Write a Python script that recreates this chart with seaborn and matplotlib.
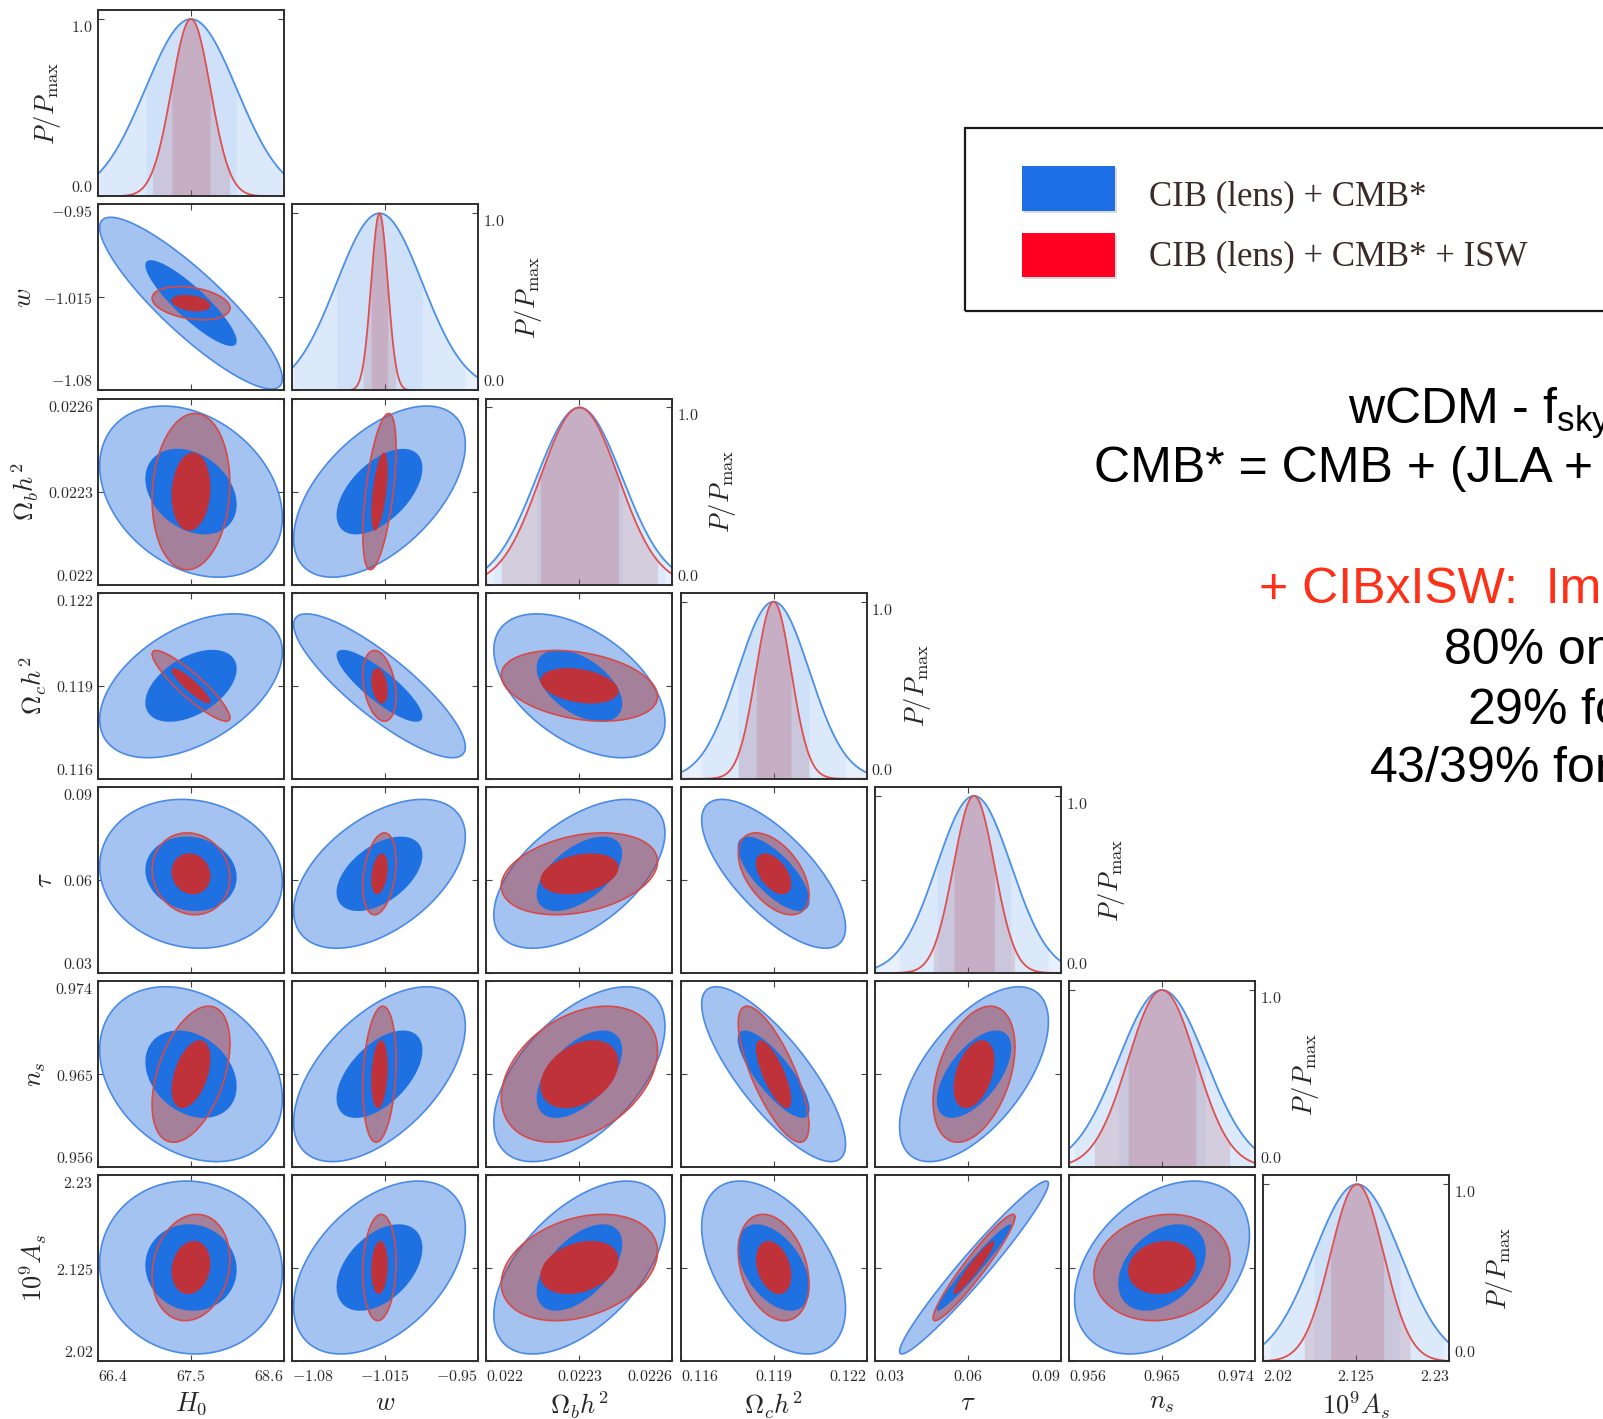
import numpy as np
import matplotlib
matplotlib.use("Agg")
import matplotlib.pyplot as plt
from matplotlib.patches import Rectangle
import seaborn as sns

# ---------------------------------------------------------------- data
names = ["H0", "w", "ombh2", "omch2", "tau", "ns", "As"]
axis_labels = [r"$H_0$", r"$w$", r"$\Omega_b h^2$", r"$\Omega_c h^2$",
               r"$\tau$", r"$n_s$", r"$10^9 A_s$"]
tick_labels = [
    ["66.4", "67.5", "68.6"],
    ["-1.08", "-1.015", "-0.95"],
    ["0.022", "0.0223", "0.0226"],
    ["0.116", "0.119", "0.122"],
    ["0.03", "0.06", "0.09"],
    ["0.956", "0.965", "0.974"],
    ["2.02", "2.125", "2.23"],
]
fiducial = [67.5, -1.019, 0.0223, 0.119, 0.062, 0.965, 2.126]

# 1-sigma marginal errors: CIB (lens) + CMB*  and  ... + ISW
sigma_base = [0.54, 0.030, 0.000138, 0.00116, 0.0120, 0.00423, 0.0488]
sigma_isw = [0.23, 0.0058, 0.000126, 0.00057, 0.0066, 0.00329, 0.0300]

# correlation coefficients, lower triangle (row i, columns 0..i-1)
corr_base = [
    [],
    [-0.88],
    [-0.30, 0.55],
    [0.47, -0.85, -0.50],
    [-0.10, 0.50, 0.55, -0.72],
    [-0.28, 0.55, 0.55, -0.80, 0.60],
    [-0.05, 0.45, 0.55, -0.47, 0.97, 0.37],
]
corr_isw = [
    [],
    [-0.30],
    [0.10, 0.55],
    [-0.90, -0.30, -0.30],
    [-0.10, 0.30, 0.30, -0.50],
    [0.45, 0.20, 0.35, -0.75, 0.40],
    [0.15, 0.10, 0.30, -0.30, 0.95, 0.12],
]

legend_labels = ["CIB (lens) + CMB*", "CIB (lens) + CMB* + ISW"]
side_lines = [
    ("wCDM - f$_{\\mathrm{sky}}$ = 0.4", "black"),
    ("CMB* = CMB + (JLA + BAO)", "black"),
    ("+ CIBxISW:  Improvement", "#ff3018"),
    ("80% on w", "black"),
    ("29% for H$_0$", "black"),
    ("43/39% for n$_s$/A$_s$", "black"),
]

# ---------------------------------------------------------------- style
sns.set_theme(style="ticks")
plt.rcParams.update({
    "font.family": ["DejaVu Serif"],
    "mathtext.fontset": "cm",
    "mathtext.rm": "Liberation Sans",
    "mathtext.it": "Liberation Sans:italic",
    "mathtext.bf": "Liberation Sans:bold",
    "axes.linewidth": 1.4,
    "axes.edgecolor": "#2e2e2e",
    "xtick.direction": "in",
    "ytick.direction": "in",
    "xtick.major.size": 4,
    "ytick.major.size": 4,
    "xtick.major.width": 0.8,
    "ytick.major.width": 0.8,
    "xtick.color": "#444444",
    "ytick.color": "#444444",
    "xtick.labelcolor": "#2a2a2a",
    "ytick.labelcolor": "#2a2a2a",
    "xtick.labelsize": 11.5,
    "ytick.labelsize": 11.5,
    "xtick.major.pad": 4.5,
    "ytick.major.pad": 3.5,
})

BLUE_LIGHT = "#a4c3f1"
BLUE_EDGE = "#4a8ae6"
BLUE_DARK = "#1f71e2"
RED_OUTER = (0.66, 0.22, 0.24, 0.48)
RED_EDGE = "#d64a48"
RED_DARK = "#c0323a"
BLUE_LINE = "#4a8fe8"
RED_LINE = "#de5050"

W, H = 1603, 1419
fig = plt.figure(figsize=(W / 100, H / 100), dpi=100)


def panel_rect(col, row):
    left = 98 + col * 194.2
    top = 10.2 + row * 194.2
    return [left / W, 1 - (top + 186) / H, 186 / W, 186 / H]


def fx(px):
    return px / W


def fy(py):
    return 1 - py / H


def ellipse(mx, my, sx, sy, r, k):
    t = np.linspace(0, 2 * np.pi, 240)
    x = mx + k * sx * np.cos(t)
    y = my + k * sy * (r * np.cos(t) + np.sqrt(1 - r ** 2) * np.sin(t))
    return x, y


def limits(i):
    return float(tick_labels[i][0]), float(tick_labels[i][2])


def math_labels(i):
    return ["$" + s + "$" for s in tick_labels[i]]


def align_edges(axis, which):
    """Keep the outermost tick labels inside the panel extent."""
    ticks = axis.get_major_ticks()
    for t in (ticks[0], ticks[-1]):
        first = t is ticks[0]
        for lab in (t.label1, t.label2):
            if which == "x":
                lab.set_ha("left" if first else "right")
            else:
                lab.set_va("bottom" if first else "top")


def set_xticks(ax, i, show):
    vals = [float(s) for s in tick_labels[i]]
    if show:
        ax.set_xticks(vals, labels=math_labels(i))
        align_edges(ax.xaxis, "x")
    else:
        ax.set_xticks(vals, labels=[])


def set_yticks(ax, i, show):
    vals = [float(s) for s in tick_labels[i]]
    if show:
        ax.set_yticks(vals, labels=math_labels(i))
        align_edges(ax.yaxis, "y")
    else:
        ax.set_yticks(vals, labels=[])


n = len(names)
for row in range(n):
    for col in range(row + 1):
        ax = fig.add_axes(panel_rect(col, row))
        ax.tick_params(top=True, right=True, bottom=True, left=True)
        xlo, xhi = limits(col)
        if row == col:
            # 1D marginalised posteriors
            i = row
            x = np.linspace(xlo, xhi, 500)
            mu = fiducial[i]
            pb = np.exp(-0.5 * ((x - mu) / sigma_base[i]) ** 2)
            pr = np.exp(-0.5 * ((x - mu) / sigma_isw[i]) ** 2)
            ax.fill_between(x, 0, pb, color=BLUE_LINE, alpha=0.13, lw=0)
            ax.fill_between(x, 0, pb, where=np.abs(x - mu) <= 2 * sigma_base[i],
                            color=BLUE_LINE, alpha=0.07, lw=0)
            ax.fill_between(x, 0, pb, where=np.abs(x - mu) <= sigma_base[i],
                            color=BLUE_LINE, alpha=0.08, lw=0)
            ax.fill_between(x, 0, pr, where=np.abs(x - mu) <= 2 * sigma_isw[i],
                            color="#b03040", alpha=0.15, lw=0)
            ax.fill_between(x, 0, pr, where=np.abs(x - mu) <= sigma_isw[i],
                            color="#b03040", alpha=0.15, lw=0)
            sns.lineplot(x=x, y=pb, ax=ax, color=BLUE_LINE, lw=1.3, sort=False,
                         legend=False)
            sns.lineplot(x=x, y=pr, ax=ax, color=RED_LINE, lw=1.3, sort=False,
                         legend=False)
            ax.set_xlim(xlo, xhi)
            ax.set_ylim(0, 1.05)
            set_xticks(ax, i, show=(i == n - 1))
            ax.set_yticks([0.0, 1.0], labels=[r"$0.0$", r"$1.0$"])
            if i == 0:
                ax.set_ylabel(r"$P/P_{\rm max}$", fontsize=19, labelpad=6)
            else:
                ax.tick_params(labelleft=False, labelright=True)
                ax.yaxis.set_label_position("right")
                ax.set_ylabel(r"$P/P_{\rm max}$", fontsize=19, labelpad=6,
                              rotation=90, va="top")
            align_edges(ax.yaxis, "y")
            if i == n - 1:
                ax.set_xlabel(axis_labels[i], fontsize=19, labelpad=4)
        else:
            # 2D joint constraints: 1 and 2 sigma ellipses
            ylo, yhi = limits(row)
            mx, my = fiducial[col], fiducial[row]
            rb = corr_base[row][col]
            rr = corr_isw[row][col]
            bx, by = sigma_base[col], sigma_base[row]
            qx, qy = sigma_isw[col], sigma_isw[row]

            ex, ey = ellipse(mx, my, bx, by, rb, 2)
            ax.fill(ex, ey, facecolor=BLUE_LIGHT, edgecolor=BLUE_EDGE, lw=1.2,
                    zorder=1)
            rx2, ry2 = ellipse(mx, my, qx, qy, rr, 2)
            ax.fill(rx2, ry2, facecolor=RED_OUTER, edgecolor="none", zorder=2)
            ex, ey = ellipse(mx, my, bx, by, rb, 1)
            ax.fill(ex, ey, facecolor=BLUE_DARK, edgecolor="none", zorder=3)
            ax.plot(rx2, ry2, color=RED_EDGE, lw=1.2, zorder=4)
            rx1, ry1 = ellipse(mx, my, qx, qy, rr, 1)
            ax.fill(rx1, ry1, facecolor=RED_DARK, edgecolor="none", zorder=5)

            ax.set_xlim(xlo, xhi)
            ax.set_ylim(ylo, yhi)
            set_xticks(ax, col, show=(row == n - 1))
            set_yticks(ax, row, show=(col == 0))
            if row == n - 1:
                ax.set_xlabel(axis_labels[col], fontsize=19, labelpad=4)
            if col == 0:
                ax.set_ylabel(axis_labels[row], fontsize=19, labelpad=5)

# ---------------------------------------------------------------- legend box
fig.add_artist(Rectangle((fx(965), fy(311)), fx(1620) - fx(965), fy(128) - fy(311),
                         transform=fig.transFigure, fill=False,
                         edgecolor="#1a1a1a", lw=1.6))
for (top, bottom), colr, lab, base in zip(
        [(166, 211), (233, 277)], ["#1e6fe6", "#ff0022"], legend_labels, [205, 265]):
    fig.add_artist(Rectangle((fx(1024), fy(bottom + 2)), fx(1117) - fx(1024),
                             fy(top + 2) - fy(bottom + 2), transform=fig.transFigure,
                             facecolor="#bbbbbb", edgecolor="none", alpha=0.5))
    fig.add_artist(Rectangle((fx(1022), fy(bottom)), fx(1115) - fx(1022),
                             fy(top) - fy(bottom), transform=fig.transFigure,
                             facecolor=colr, edgecolor="none"))
    fig.text(fx(1149), fy(base), lab, family="Liberation Serif", fontsize=25,
             color="#3b2b2b", ha="left", va="baseline")

# ---------------------------------------------------------------- side notes
side_pos = [(1348, 424), (1094, 482), (1259, 603), (1444, 664), (1467, 725),
            (1369, 783)]
for (txt, colr), (x0, y0) in zip(side_lines, side_pos):
    fig.text(fx(x0), fy(y0), txt, family="Liberation Sans", fontsize=36,
             color=colr, ha="left", va="baseline", math_fontfamily="custom")

fig.savefig("out.png", dpi=100)
